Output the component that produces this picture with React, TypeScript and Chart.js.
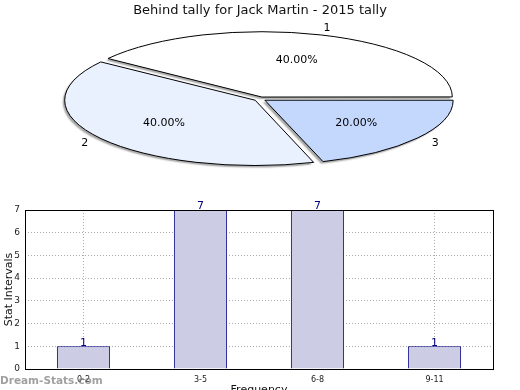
import React, { useEffect, useRef } from "react";
import { Chart, registerables } from "chart.js";

Chart.register(...registerables);

const pieTitle = "Behind tally for Jack Martin - 2015 tally";
// drawn clockwise from 3 o'clock: slice 3, slice 2, slice 1
const pieLabels = ["3", "2", "1"];
const pieValues = [20, 40, 40];
const pieColors = ["#c4d8fe", "#eaf1fe", "#ffffff"];

const barCategories = ["0-2", "3-5", "6-8", "9-11"];
const barValues = [1, 7, 7, 1];
const yTicks = [0, 1, 2, 3, 4, 5, 6, 7];

const FONT = "'DejaVu Sans', sans-serif";
const PIE_CX = 260;
const PIE_CY = 99;
const PIE_R = 188;
const PIE_K = 0.343;
const PIE_OFFSET = 6;

export default function App() {
  const pieRef = useRef<HTMLCanvasElement>(null);
  const barRef = useRef<HTMLCanvasElement>(null);

  useEffect(() => {
    let base: DOMMatrix | null = null;
    let origStroke: any = null;
    const squash = {
      id: "squash",
      beforeDatasetsDraw(chart: any) {
        const ctx = chart.ctx as CanvasRenderingContext2D;
        const meta = chart.getDatasetMeta(0);
        const arc = meta.data[0] as any;
        const cx = arc.x;
        const cy = arc.y;
        ctx.save();
        base = ctx.getTransform();
        ctx.translate(PIE_CX, PIE_CY);
        ctx.scale(1, PIE_K);
        ctx.translate(-cx, -cy);
        ctx.shadowColor = "rgba(0,0,0,0.35)";
        ctx.shadowOffsetX = -2;
        ctx.shadowOffsetY = 2;
        ctx.shadowBlur = 1.5;
        origStroke = ctx.stroke;
        (ctx as any).stroke = function (...args: any[]) {
          ctx.save();
          if (base) ctx.setTransform(base);
          ctx.shadowColor = "rgba(0,0,0,0)";
          origStroke.apply(ctx, args);
          ctx.restore();
        };
      },
      afterDatasetsDraw(chart: any) {
        const ctx = chart.ctx as CanvasRenderingContext2D;
        (ctx as any).stroke = origStroke;
        ctx.restore();
        const meta = chart.getDatasetMeta(0);
        const total = pieValues.reduce((a, b) => a + b, 0);
        ctx.save();
        ctx.font = `11px ${FONT}`;
        ctx.fillStyle = "#000";
        ctx.textAlign = "center";
        ctx.textBaseline = "middle";
        meta.data.forEach((el: any, i: number) => {
          const mid = (el.startAngle + el.endAngle) / 2;
          const ox = Math.cos(mid) * PIE_OFFSET;
          const oy = Math.sin(mid) * PIE_OFFSET;
          const map = (f: number) => {
            const x = el.x + ox + Math.cos(mid) * PIE_R * f;
            const y = el.y + oy + Math.sin(mid) * PIE_R * f;
            return [PIE_CX + (x - el.x), PIE_CY + (y - el.y) * PIE_K];
          };
          const [ix, iy] = map(0.6);
          ctx.fillText(((pieValues[i] / total) * 100).toFixed(2) + "%", ix, iy);
          const [lx, ly] = map(1.12);
          ctx.fillText(pieLabels[i], lx, ly);
        });
        ctx.restore();
      },
    };

    const pie = new Chart(pieRef.current!, {
      type: "pie",
      data: {
        labels: pieLabels,
        datasets: [
          {
            data: pieValues,
            backgroundColor: pieColors,
            borderColor: "#000",
            borderWidth: 1,
            offset: PIE_OFFSET * 4,
            radius: PIE_R,
            clip: false as any,
          } as any,
        ],
      },
      options: {
        animation: false,
        responsive: false,
        rotation: 90,
        events: [],
        layout: { padding: 0 },
        plugins: {
          legend: { display: false },
          tooltip: { enabled: false },
          title: {
            display: true,
            text: pieTitle,
            color: "#111",
            font: { family: FONT, size: 13, weight: "normal" as any },
            padding: { top: 3, bottom: 2 },
          },
        },
      },
      plugins: [squash],
    });

    const frame = {
      id: "frame",
      afterDraw(chart: any) {
        const { ctx, chartArea } = chart;
        ctx.save();
        ctx.strokeStyle = "#000";
        ctx.lineWidth = 1;
        ctx.setLineDash([]);
        ctx.strokeRect(
          Math.round(chartArea.left) + 0.5,
          Math.round(chartArea.top) + 0.5,
          Math.round(chartArea.right - chartArea.left),
          Math.round(chartArea.bottom - chartArea.top)
        );
        const meta = chart.getDatasetMeta(0);
        ctx.font = `11px ${FONT}`;
        ctx.fillStyle = "#000080";
        ctx.textAlign = "center";
        ctx.textBaseline = "bottom";
        meta.data.forEach((el: any, i: number) => {
          ctx.fillText(String(barValues[i]), el.x, el.y + 2);
        });
        ctx.restore();
      },
    };

    const gridOpts = {
      color: "#aaaaaa",
      lineWidth: 1,
      drawTicks: true,
      tickLength: 4,
      tickColor: "rgba(0,0,0,0)",
      borderDash: [1, 2],
    };

    const bar = new Chart(barRef.current!, {
      type: "bar",
      data: {
        labels: barCategories,
        datasets: [
          {
            data: barValues,
            backgroundColor: "#ccccE4",
            borderColor: "#000080",
            borderWidth: 1,
            categoryPercentage: 1,
            barPercentage: 0.455,
          },
        ],
      },
      options: {
        animation: false,
        responsive: false,
        events: [],
        layout: { padding: { top: 15, right: 27, left: 0, bottom: 0 } },
        plugins: {
          legend: { display: false },
          tooltip: { enabled: false },
        },
        scales: {
          x: {
            z: 1,
            grid: { ...gridOpts, offset: false } as any,
            border: { display: false, dash: [1, 2] } as any,
            ticks: {
              color: "#222",
              font: { family: FONT, size: 8 },
              padding: 2,
              maxRotation: 0,
              autoSkip: false,
            },
            title: {
              display: true,
              text: "Frequency",
              color: "#111",
              font: { family: FONT, size: 11 },
              padding: { top: 0, bottom: 8.4 },
            },
            afterFit(scale: any) {
              scale.height = 36;
            },
          },
          y: {
            z: 1,
            min: 0,
            max: 7,
            grid: { ...gridOpts } as any,
            border: { display: false, dash: [1, 2] } as any,
            ticks: {
              stepSize: 1,
              color: "#222",
              font: { family: FONT, size: 9 },
              padding: 1,
              callback: (v: any) => (yTicks.includes(Number(v)) ? String(v) : ""),
            },
            title: {
              display: true,
              text: "Stat Intervals",
              color: "#111",
              font: { family: FONT, size: 11 },
              padding: { top: 2.4, bottom: 0 },
            },
            afterFit(scale: any) {
              scale.width = 25;
            },
          },
        },
      },
      plugins: [frame],
    });

    return () => {
      pie.destroy();
      bar.destroy();
    };
  }, []);

  return (
    <div
      style={{
        position: "fixed",
        left: 0,
        top: 0,
        width: 520,
        height: 390,
        overflow: "hidden",
        background: "#fff",
      }}
    >
      <canvas
        ref={pieRef}
        width={520}
        height={198}
        style={{ position: "absolute", left: 0, top: 0, width: 520, height: 198 }}
      />
      <canvas
        ref={barRef}
        width={520}
        height={210}
        style={{ position: "absolute", left: 0, top: 195, width: 520, height: 210 }}
      />
      <div
        style={{
          position: "absolute",
          left: 0,
          top: 372,
          fontFamily: FONT,
          fontWeight: "bold",
          fontSize: 10.5,
          color: "rgba(120,120,120,0.7)",
          whiteSpace: "nowrap",
          lineHeight: "16px",
        }}
      >
        Dream-Stats.com
      </div>
    </div>
  );
}
